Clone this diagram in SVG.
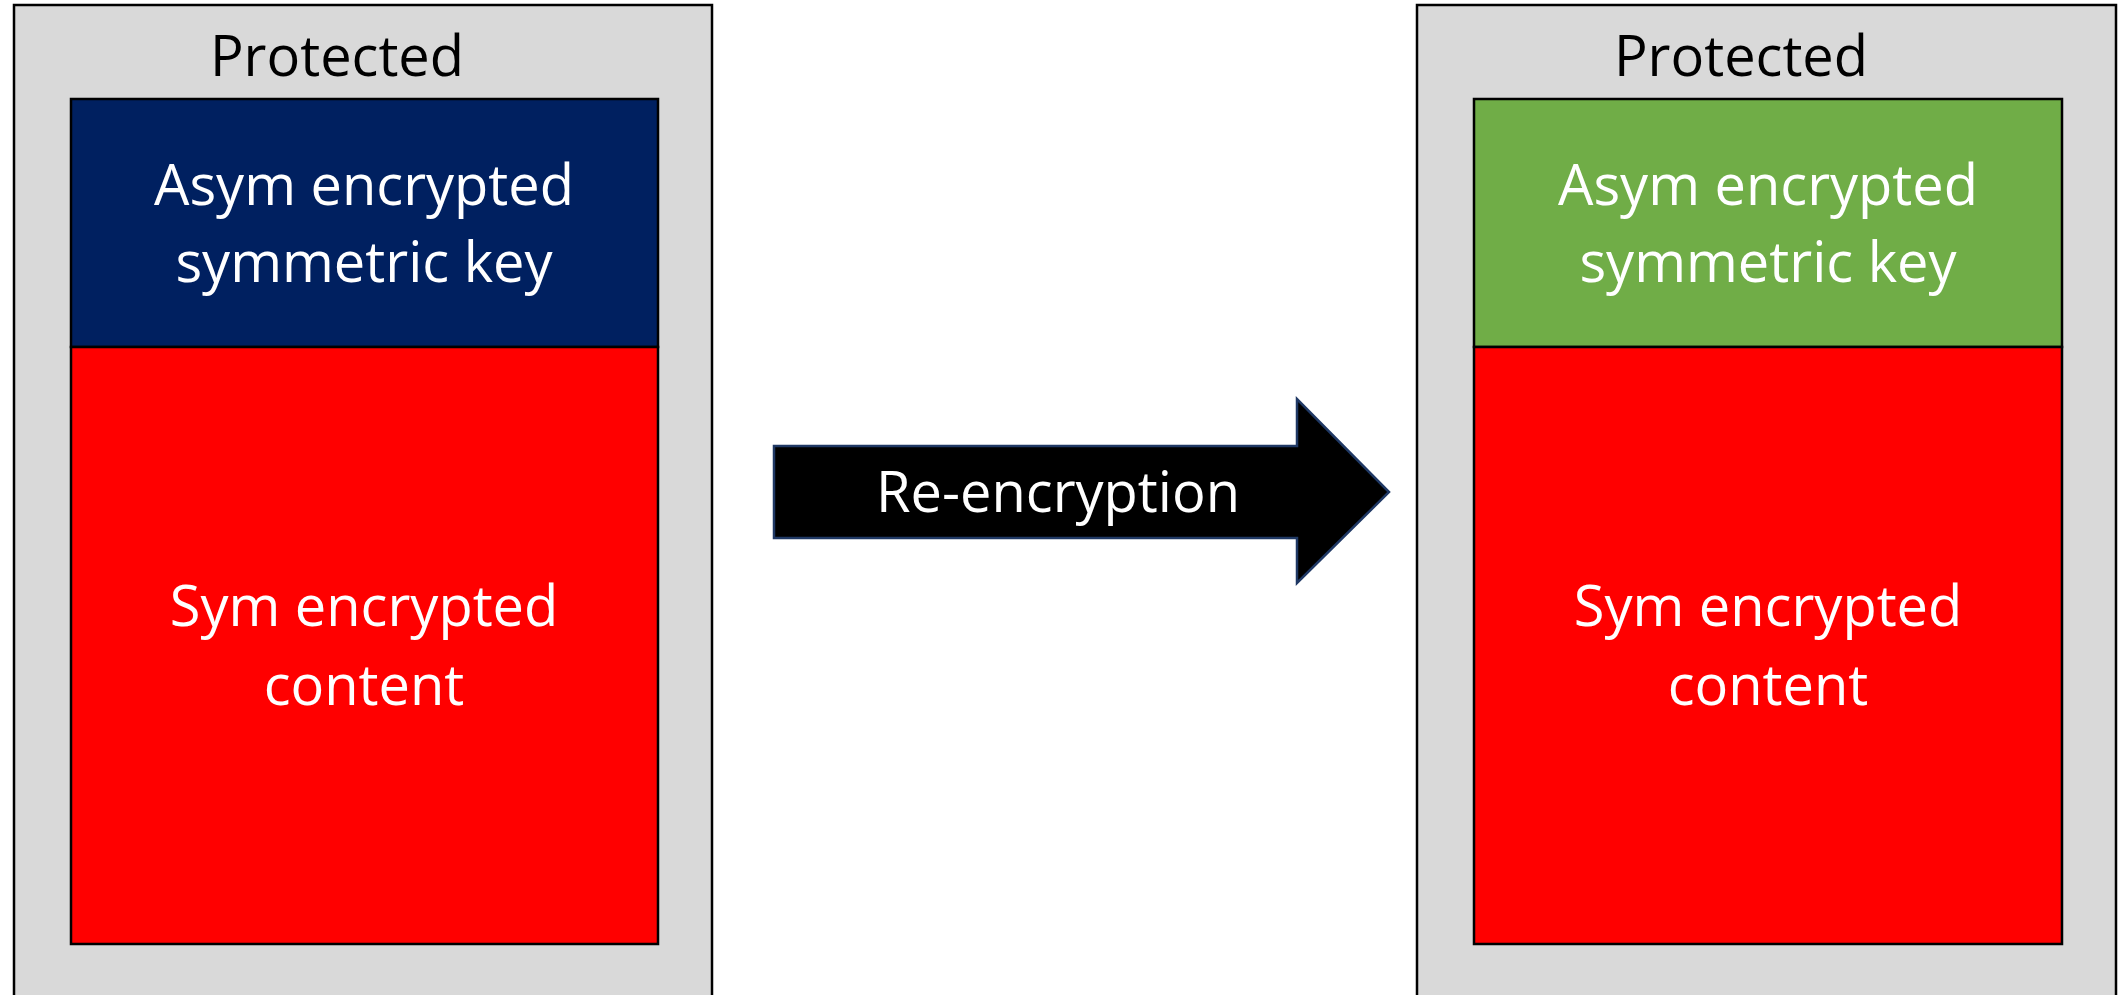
<svg xmlns="http://www.w3.org/2000/svg" width="2121" height="995" viewBox="0 0 2121 995">
  <style>
    .outer { fill: #D9D9D9; stroke: #000; stroke-width: 2.5; }
    .inner { stroke: #000; stroke-width: 2.5; }
    .key-old { fill: #002060; }
    .key-new { fill: #70AD47; }
    .content { fill: #FF0000; }
    text { font-family: "Open Sans", "Noto Sans", "DejaVu Sans", sans-serif; font-size: 56px; text-anchor: middle; }
    .title { fill: #000; }
    .label { fill: #fff; }
    .arrow { fill: #000; stroke: #1F3864; stroke-width: 2.5; stroke-linejoin: miter; }
  </style>
  <rect width="2121" height="995" fill="#fff"/>

  <!-- Original file: key wrapped for the first recipient -->
  <g id="file-before">
    <rect class="outer" x="14" y="5" width="698" height="1000"/>
    <text class="title" x="337" y="76">Protected</text>
    <g id="key-before">
      <rect class="inner key-old" x="71" y="99" width="587" height="248"/>
      <text class="label" x="364" y="205">Asym encrypted</text>
      <text class="label" x="364" y="282">symmetric key</text>
    </g>
    <g id="content-before">
      <rect class="inner content" x="71" y="347" width="587" height="597"/>
      <text class="label" x="364" y="626">Sym encrypted</text>
      <text class="label" x="364" y="705">content</text>
    </g>
  </g>

  <!-- Re-encrypted file: new key wrap, same content -->
  <g id="file-after">
    <rect class="outer" x="1417" y="5" width="699" height="1000"/>
    <text class="title" x="1741" y="76">Protected</text>
    <g id="key-after">
      <rect class="inner key-new" x="1474" y="99" width="588" height="248"/>
      <text class="label" x="1768" y="205">Asym encrypted</text>
      <text class="label" x="1768" y="282">symmetric key</text>
    </g>
    <g id="content-after">
      <rect class="inner content" x="1474" y="347" width="588" height="597"/>
      <text class="label" x="1768" y="626">Sym encrypted</text>
      <text class="label" x="1768" y="705">content</text>
    </g>
  </g>

  <!-- Transition arrow -->
  <g id="connectors">
    <g id="re-encryption">
      <polygon class="arrow" points="774,446 1297,446 1297,399 1389,492 1297,583 1297,538 774,538"/>
      <text class="label" x="1058" y="512">Re-encryption</text>
    </g>
  </g>
</svg>
